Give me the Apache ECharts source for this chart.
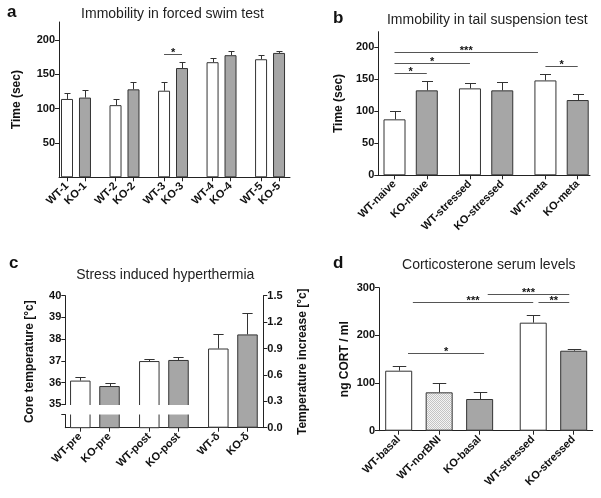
<!DOCTYPE html>
<html><head><meta charset="utf-8">
<script src="https://cdn.jsdelivr.net/npm/echarts@6/dist/echarts.min.js"></script>
<style>html,body{margin:0;padding:0;background:#fff}#c{width:601px;height:498px}</style>
</head><body><div id="c"></div><script>
// ---------- data ----------
const catA = ['WT-1','KO-1','WT-2','KO-2','WT-3','KO-3','WT-4','KO-4','WT-5','KO-5'];
const grpA = [0,0,1,1,2,2,3,3,4,4];
const meanA = [114,116,105,128,126,159,167.5,177.7,171.8,181];
const semA = [9,11,8.5,11,12,9,5.5,6.5,6,3.5];
const yTicksA = [50,100,150,200];
const sigA = [{a:4,b:5,y:180,t:'*'}];

const catB = ['WT-naive','KO-naive','WT-stressed','KO-stressed','WT-meta','KO-meta'];
const grpB = [0,0,1,1,2,2];
const meanB = [87.3,132.5,135.6,132.5,148,117.4];
const semB = [12.5,14,8,13.5,10,10];
const yTicksB = [0,50,100,150,200];
const sigB = [{a:0,b:1,y:159.5,t:'*'},{a:0,b:2,y:175.5,t:'*'},{a:0,b:4,db:-0.23,y:192.7,t:'***'},{a:4,b:5,y:170.8,t:'*'}];

const catC = ['WT-pre','KO-pre','WT-post','KO-post','WT-\u03b4','KO-\u03b4'];
const grpC = [0,0,1,1,2,2];
const tempC = [36.09,35.84,36.99,37.04];
const semTempC = [0.15,0.15,0.1,0.12];
const deltaC = [0.9,1.06];
const semDeltaC = [0.16,0.24];
const yTicksC = [35,36,37,38,39,40];
const yTicksC2 = [0,0.3,0.6,0.9,1.2,1.5];

const catD = ['WT-basal','WT-norBNI','KO-basal','WT-stressed','KO-stressed'];
const grpD = [0,0,0,1,1];
const meanD = [125.9,80.5,66.5,226.6,167.8];
const semD = [9,19.5,14,16,4.5];
const yTicksD = [0,100,200,300];
const sigD = [{a:0,da:0.23,b:2,db:0.11,y:162,t:'*'},{a:0,da:0.35,b:3,y:269,t:'***'},{a:2,da:0.2,b:4,db:-0.11,y:287,t:'***'},{a:3,da:0.13,b:4,db:-0.11,y:269,t:'**'}];

const panelLetters = ['a','b','c','d'];
const panelTitles = ['Immobility in forced swim test','Immobility in tail suspension test','Stress induced hyperthermia','Corticosterone serum levels'];
const yNames = ['Time (sec)','Time (sec)','Core temperature [\u00b0c]','ng CORT / ml'];
const yName2C = 'Temperature increase [\u00b0c]';

// ---------- layout / style ----------
const FONT = '"Liberation Sans", Arial, Helvetica, sans-serif';
const AX = '#222';
const GRAY = '#a6a6a6';
const L = [
  {left:59, top:22, width:231, height:155.3, first:8, step:17.97, gap:0.7, bw:12, ymin:0, ymax:226, nameGap:36},
  {left:378.3, top:31.7, width:211.7, height:143.6, first:16.2, step:32.29, gap:0.337, bw:22, ymin:0, ymax:224, nameGap:34},
  {left:65.3, top:295.7, width:198, height:132, first:15, step:29.2, gap:0.363, bw:20.5, ymin:33.92, ymax:40, nameGap:30},
  {left:379, top:287.7, width:213.7, height:143, first:19.7, step:40.47, gap:0.324, bw:27, ymin:0, ymax:300, nameGap:28}
];
const cats = [catA,catB,catC,catD];
const grps = [grpA,grpB,grpC,grpD];
const yTicks = [yTicksA,yTicksB,yTicksC,yTicksD];
const sigs = [sigA,sigB,null,sigD];

function positions(k){ return cats[k].map((_,i)=> i + grps[k][i]*L[k].gap); }
const P = [0,1,2,3].map(positions);
function xmin(k){ return -L[k].first/L[k].step; }
function xmax(k){ return xmin(k) + L[k].width/L[k].step; }

// stipple pattern for norBNI
const pc = document.createElement('canvas'); pc.width = 2; pc.height = 2;
const pctx = pc.getContext('2d');
pctx.fillStyle = '#f4f4f4'; pctx.fillRect(0,0,2,2);
pctx.fillStyle = '#c4c4c4'; pctx.fillRect(0,0,1,1); pctx.fillRect(1,1,1,1);
const STIPPLE = {image: pc, repeat: 'repeat'};

function barColor(name){
  if (name === 'WT-norBNI') return STIPPLE;
  return name.indexOf('KO') === 0 ? GRAY : '#ffffff';
}

const labelFont = {fontFamily: FONT, fontWeight:'bold', fontSize:11, color:'#111'};

const grid = L.map(l => ({left:l.left, top:l.top, width:l.width, height:l.height, containLabel:false, outerBoundsMode:'none'}));

const xAxis = L.map((l,k) => ({
  type:'value', gridIndex:k, min:xmin(k), max:xmax(k),
  splitLine:{show:false},
  axisLine:{onZero:false, lineStyle:{color:AX, width:1}},
  axisTick:{customValues:P[k], length:4, lineStyle:{color:AX}},
  axisLabel:Object.assign({customValues:P[k], rotate:45, margin:7,
    formatter: v => { const i = P[k].findIndex(p => Math.abs(p - v) < 1e-6); return i >= 0 ? cats[k][i] : ''; }}, labelFont)
}));

const yAxis = L.map((l,k) => ({
  type:'value', gridIndex:k, min:l.ymin, max:l.ymax,
  splitLine:{show:false},
  axisLine:{show:true, onZero:false, lineStyle:{color:AX, width:1}},
  axisTick:{show:true, customValues:yTicks[k], length:4, lineStyle:{color:AX}},
  axisLabel:Object.assign({customValues:yTicks[k], margin:4}, labelFont),
  name:yNames[k], nameLocation:'middle', nameGap:l.nameGap, nameRotate:90,
  nameTextStyle:{fontFamily:FONT, fontWeight:'bold', fontSize:12, color:'#111'}
}));
// right axis of panel c
yAxis.push({
  type:'value', gridIndex:2, position:'right', min:0, max:1.5, interval:0.3,
  splitLine:{show:false},
  axisLine:{show:true, onZero:false, lineStyle:{color:AX, width:1}},
  axisTick:{show:true, customValues:yTicksC2, length:4, lineStyle:{color:AX}},
  axisLabel:Object.assign({customValues:yTicksC2, margin:4, formatter: v => v.toFixed(1)}, labelFont),
  name:yName2C, nameLocation:'middle', nameGap:33, nameRotate:90,
  nameTextStyle:{fontFamily:FONT, fontWeight:'bold', fontSize:12, color:'#111'}
});

function barSeries(k, yIdx, idxs, vals){
  return {
    type:'bar', xAxisIndex:k, yAxisIndex:yIdx, barWidth:L[k].bw, barGap:'-100%', z:2,
    data: idxs.map((i,j) => ({value:[P[k][i], vals[j]], itemStyle:{color:barColor(cats[k][i]), borderColor:'#333', borderWidth:1}})),
    silent:true, animation:false
  };
}
function errSeries(k, yIdx, idxs, vals, errs){
  const hw = L[k].bw/4;
  return {
    type:'custom', xAxisIndex:k, yAxisIndex:yIdx, z:3, silent:true, animation:false,
    data: idxs.map((i,j) => [P[k][i], vals[j], errs[j]]),
    renderItem: (params, api) => {
      const x = api.value(0), m = api.value(1), e = api.value(2);
      const p0 = api.coord([x, m]), p1 = api.coord([x, m + e]);
      const cx = Math.round(p0[0]) + 0.5, ty = Math.round(p1[1]) + 0.5;
      return {type:'group', children:[
        {type:'line', shape:{x1:cx, y1:p0[1], x2:cx, y2:ty}, style:{stroke:'#333', lineWidth:1}},
        {type:'line', shape:{x1:cx-hw, y1:ty, x2:cx+hw, y2:ty}, style:{stroke:'#333', lineWidth:1}}
      ]};
    }
  };
}
function sigSeries(k){
  const S = sigs[k];
  return {
    type:'custom', xAxisIndex:k, yAxisIndex:k, z:4, silent:true, animation:false,
    data: S.map(s => [P[k][s.a], s.y]),
    renderItem: (params, api) => {
      const s = S[params.dataIndex];
      const p1 = api.coord([P[k][s.a] + (s.da || 0), s.y]);
      const p2 = api.coord([P[k][s.b] + (s.db || 0), s.y]);
      const yy = Math.round(p1[1]) + 0.5;
      return {type:'group', children:[
        {type:'line', shape:{x1:p1[0], y1:yy, x2:p2[0], y2:yy}, style:{stroke:'#555', lineWidth:1}},
        {type:'text', style:{text:s.t, x:(p1[0]+p2[0])/2, y:yy+4, textAlign:'center', textVerticalAlign:'bottom',
          font:'bold 11px ' + FONT, fill:'#111'}}
      ]};
    }
  };
}
const idx = n => Array.from({length:n}, (_,i)=>i);

const series = [
  barSeries(0, 0, idx(10), meanA), errSeries(0, 0, idx(10), meanA, semA), sigSeries(0),
  barSeries(1, 1, idx(6), meanB), errSeries(1, 1, idx(6), meanB, semB), sigSeries(1),
  barSeries(2, 2, [0,1,2,3], tempC), errSeries(2, 2, [0,1,2,3], tempC, semTempC),
  barSeries(2, 4, [4,5], deltaC), errSeries(2, 4, [4,5], deltaC, semDeltaC),
  // axis break band on panel c
  {type:'custom', xAxisIndex:2, yAxisIndex:2, z:6, silent:true, animation:false, clip:false,
   data:[[0, 35]],
   renderItem:(params, api) => {
     const a = api.coord([xmin(2), 34.97]);
     const b = api.coord([P[2][3] + 0.6, 34.53]);
     const ax = a[0] - 4;
     const by = Math.round(b[1]) + 0.5;
     return {type:'group', children:[
       {type:'rect', shape:{x:ax, y:a[1], width:b[0]-ax, height:b[1]-a[1]}, style:{fill:'#ffffff'}},
       {type:'line', shape:{x1:a[0]-4, y1:by, x2:a[0]+0.5, y2:by}, style:{stroke:AX, lineWidth:1}}
     ]};
   }},
  barSeries(3, 3, idx(5), meanD), errSeries(3, 3, idx(5), meanD, semD), sigSeries(3)
];

const letterPos = [[7,12],[333,18],[9,263],[333,263]];
const titlePos = [[172.5,14.5],[487.3,20],[165.3,275.5],[488.8,265.5]];
const graphic = [];
panelLetters.forEach((t,k) => graphic.push({type:'text', x:letterPos[k][0], y:letterPos[k][1],
  style:{text:t, font:'bold 17px ' + FONT, fill:'#111', textVerticalAlign:'middle'}}));
panelTitles.forEach((t,k) => graphic.push({type:'text', x:titlePos[k][0], y:titlePos[k][1],
  style:{text:t, font:'14px ' + FONT, fill:'#222', textAlign:'center', textVerticalAlign:'middle'}}));

const chart = echarts.init(document.getElementById('c'), null, {renderer:'canvas'});
chart.setOption({backgroundColor:'#ffffff', animation:false, grid, xAxis, yAxis, series, graphic});
</script></body></html>
